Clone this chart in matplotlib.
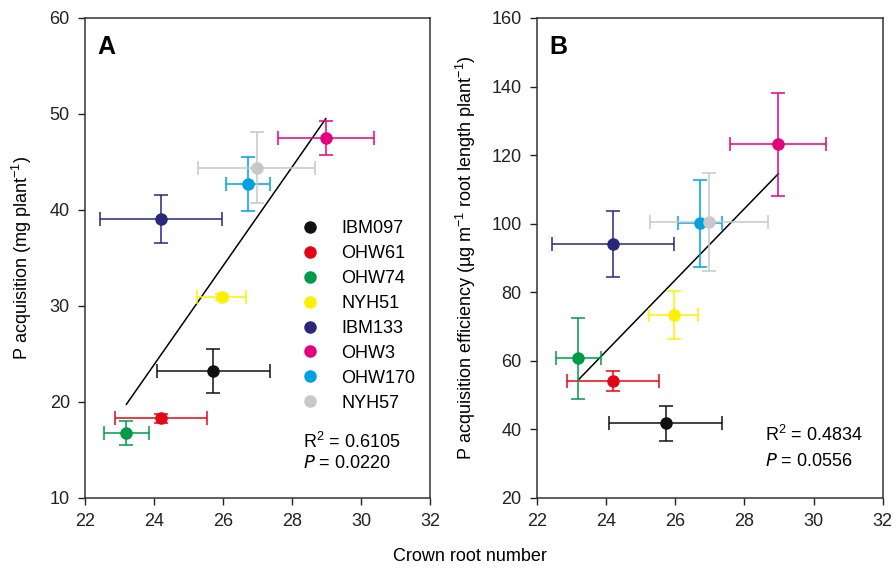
import numpy as np
import matplotlib
matplotlib.use("Agg")
import matplotlib.pyplot as plt
from matplotlib.lines import Line2D

plt.rcParams['font.family'] = ['Liberation Sans', 'DejaVu Sans']
plt.rcParams['mathtext.default'] = 'regular'

genotypes = ["IBM097", "OHW61", "OHW74", "NYH51", "IBM133", "OHW3", "OHW170", "NYH57"]
colors = ["#111111", "#e30613", "#009a49", "#fff000", "#29287a", "#e5007d", "#00a0e3", "#c8c8c8"]

crown_root = [25.72, 24.2, 23.2, 25.96, 24.2, 28.98, 26.72, 26.98]
crown_root_err = [1.63, 1.33, 0.65, 0.71, 1.77, 1.39, 0.64, 1.7]

p_acq = [23.2, 18.3, 16.8, 30.9, 39.1, 47.5, 42.7, 44.4]
p_acq_err = [2.3, 0.5, 1.25, 0.3, 2.5, 1.8, 2.8, 3.7]

p_eff = [41.8, 54.0, 60.7, 73.3, 94.0, 123.2, 100.1, 100.6]
p_eff_err = [5.1, 2.9, 11.9, 7.0, 9.6, 15.0, 12.7, 14.3]

x_ticks = [22, 24, 26, 28, 30, 32]
yA_ticks = [10, 20, 30, 40, 50, 60]
yB_ticks = [20, 40, 60, 80, 100, 120, 140, 160]

FS = 13

fig = plt.figure(figsize=(8.96, 5.73), dpi=100)
axA = fig.add_axes([0.0949, 0.1309, 0.385, 0.8377])
axB = fig.add_axes([0.5993, 0.1309, 0.386, 0.8377])

x = np.array(crown_root)

def panel(ax, y, yerr, yticks, label, r2, pval, statpos):
    for i in range(len(genotypes)):
        ax.errorbar(x[i], y[i], xerr=crown_root_err[i], yerr=yerr[i], fmt='o',
                    color=colors[i], ecolor=colors[i], markersize=8, capsize=5,
                    elinewidth=1.1, capthick=1.1, zorder=3)
    slope, intercept = np.polyfit(x, np.array(y), 1)
    xs = np.array([x.min(), x.max()])
    ax.plot(xs, slope * xs + intercept, color='black', lw=1.1, zorder=2)
    ax.set_xlim(22, 32)
    ax.set_ylim(yticks[0], yticks[-1])
    ax.set_xticks(x_ticks)
    ax.set_yticks(yticks)
    ax.tick_params(direction='out', length=5, width=1, labelsize=FS, colors='#222222', pad=6)
    for s in ax.spines.values():
        s.set_color('#333333')
        s.set_linewidth(1.1)
    ax.text(0.035, 0.965, label, transform=ax.transAxes, fontsize=18, fontweight='bold',
            va='top', ha='left')
    ax.text(statpos[0], statpos[1], r'R$^{2}$ = ' + r2, transform=ax.transAxes,
            fontsize=FS, va='center', ha='left')
    ax.text(statpos[0], statpos[1] - statpos[2], r'$\it{P}$ = ' + pval, transform=ax.transAxes,
            fontsize=FS, va='center', ha='left')

panel(axA, p_acq, p_acq_err, yA_ticks, 'A', '0.6105', '0.0220', (0.633, 0.117, 0.046))
panel(axB, p_eff, p_eff_err, yB_ticks, 'B', '0.4834', '0.0556', (0.66, 0.131, 0.056))

axA.set_ylabel(r'P acquisition (mg plant$^{-1}$)', fontsize=FS, labelpad=11)
axB.set_ylabel(r'P acquisition efficiency (µg m$^{-1}$ root length plant$^{-1}$)', fontsize=FS, labelpad=10)

handles = [Line2D([0], [0], marker='o', ls='', color=c, markersize=8) for c in colors]
axA.legend(handles, genotypes, loc='upper left', bbox_to_anchor=(0.606, 0.594), frameon=False,
           fontsize=FS, labelspacing=0.44, handletextpad=1.2, handlelength=1.0,
           borderaxespad=0)

fig.text(0.525, 0.014, 'Crown root number', fontsize=FS, ha='center', va='bottom')

fig.savefig('out.png', dpi=100)
